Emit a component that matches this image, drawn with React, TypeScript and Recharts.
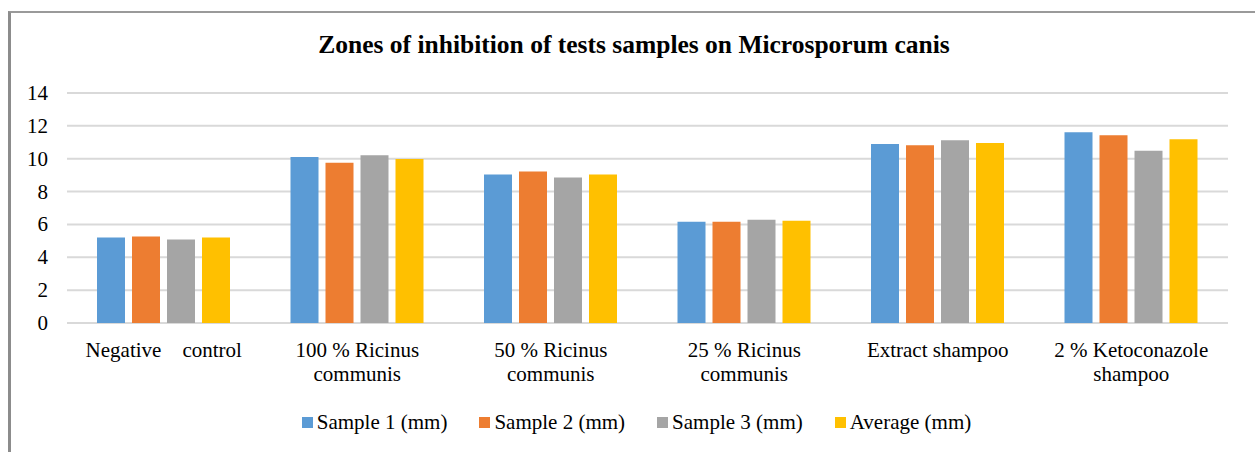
import { Bar, BarChart, CartesianGrid, Legend, XAxis, YAxis } from 'recharts'

const categories = [
  'Negative\u00a0\u00a0\u00a0\u00a0control',
  '100 % Ricinus\ncommunis',
  '50 % Ricinus\ncommunis',
  '25 % Ricinus\ncommunis',
  'Extract shampoo',
  '2 % Ketoconazole\nshampoo'
]
const sample1 = [5.21, 10.11, 9.04, 6.17, 10.9, 11.61]
const sample2 = [5.27, 9.75, 9.22, 6.17, 10.82, 11.43]
const sample3 = [5.09, 10.21, 8.86, 6.29, 11.12, 10.48]
const average = [5.21, 9.99, 9.04, 6.23, 10.96, 11.18]
const yTicks = [0, 2, 4, 6, 8, 10, 12, 14]

const series = [
  { key: 'Sample 1 (mm)', color: '#5B9BD5' },
  { key: 'Sample 2 (mm)', color: '#ED7D31' },
  { key: 'Sample 3 (mm)', color: '#A5A5A5' },
  { key: 'Average (mm)', color: '#FFC000' }
]

const data = categories.map((name, i) => ({
  name,
  'Sample 1 (mm)': sample1[i],
  'Sample 2 (mm)': sample2[i],
  'Sample 3 (mm)': sample3[i],
  'Average (mm)': average[i]
}))

const font = "'Liberation Serif', 'Times New Roman', serif"

function CategoryTick({ x, y, payload }: any) {
  const lines = String(payload.value).split('\n')
  return (
    <text x={x} y={y} textAnchor="middle" fontFamily={font} fontSize={21} fill="#000">
      {lines.map((line, i) => (
        <tspan key={i} x={x} dy={i === 0 ? 26 : 24}>
          {line}
        </tspan>
      ))}
    </text>
  )
}

function ValueTick({ x, y, payload }: any) {
  return (
    <text x={x} y={y} dy={7} textAnchor="end" fontFamily={font} fontSize={21} fill="#000">
      {payload.value}
    </text>
  )
}

function LegendContent() {
  return (
    <div style={{ display: 'flex', justifyContent: 'center', fontFamily: font, fontSize: 21, color: '#000', paddingLeft: 50 }}>
      {series.map((s) => (
        <div key={s.key} style={{ display: 'flex', alignItems: 'center', marginRight: 32 }}>
          <span style={{ width: 11, height: 11, background: s.color, marginRight: 4, display: 'inline-block' }} />
          <span>{s.key}</span>
        </div>
      ))}
    </div>
  )
}

export default function App() {
  return (
    <div style={{ position: 'absolute', left: 0, top: 0, width: 1255, height: 452, background: '#fff' }}>
      <div
        style={{
          position: 'absolute',
          left: 8,
          top: 11,
          right: 0,
          bottom: 0,
          borderLeft: '3px solid #8c8c8c',
          borderTop: '2px solid #9a9a9a'
        }}
      />
      <div
        style={{
          position: 'absolute',
          left: 0,
          width: 1268,
          top: 30,
          textAlign: 'center',
          fontFamily: font,
          fontWeight: 'bold',
          fontSize: 25.5,
          color: '#000'
        }}
      >
        Zones of inhibition of tests samples on Microsporum canis
      </div>
      <div style={{ position: 'absolute', left: 0, top: 0 }}>
        <BarChart
          width={1255}
          height={452}
          data={data}
          margin={{ top: 93, right: 27, left: 0, bottom: 44 }}
          barCategoryGap={30}
          barGap={7}
        >
          <CartesianGrid vertical={false} stroke="#D9D9D9" strokeWidth={2} />
          <XAxis dataKey="name" axisLine={false} tickLine={false} interval={0} tick={<CategoryTick />} height={60} />
          <YAxis
            width={67}
            domain={[0, 14]}
            ticks={yTicks}
            axisLine={false}
            tickLine={false}
            tickSize={0}
            tickMargin={19}
            tick={<ValueTick />}
          />
          <Legend content={<LegendContent />} wrapperStyle={{ top: 410, left: 0, width: 1255 }} />
          {series.map((s) => (
            <Bar key={s.key} dataKey={s.key} fill={s.color} isAnimationActive={false} />
          ))}
        </BarChart>
      </div>
    </div>
  )
}
